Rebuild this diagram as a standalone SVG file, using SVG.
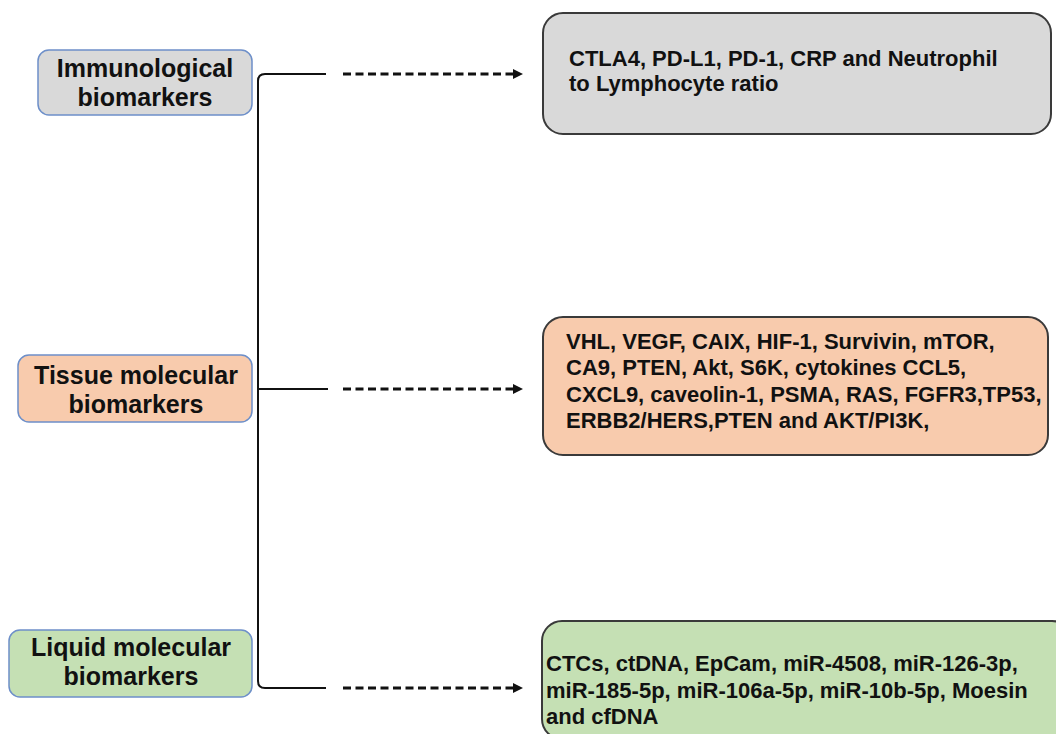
<svg xmlns="http://www.w3.org/2000/svg" width="1056" height="734" viewBox="0 0 1056 734">
<style>
.lbox{stroke:#6d8fc9;stroke-width:1.5}
.rbox{stroke:#3a3a3a;stroke-width:2}
.ltxt{font-family:"Liberation Sans",Arial,sans-serif;font-weight:bold;font-size:25px;fill:#111;text-anchor:middle}
.rtxt{font-family:"Liberation Sans",Arial,sans-serif;font-weight:bold;font-size:22px;fill:#111}
.solid{fill:none;stroke:#111;stroke-width:2}
.dash{fill:none;stroke:#111;stroke-width:3;stroke-dasharray:8 4.5}
.gray{fill:#d9d9d9}.peach{fill:#f8cbad}.green{fill:#c5e0b4}
</style>
<defs>
<marker id="arr" markerWidth="10" markerHeight="10" refX="0" refY="5" orient="auto" markerUnits="userSpaceOnUse">
<path d="M0,0 L10,5 L0,10 Z" fill="#111"/>
</marker>
</defs>
<rect width="1056" height="734" fill="#fff"/>
<g id="connectors">
<path class="solid" d="M326,74 L265,74 Q258,74 258,81 L258,681 Q258,688 265,688 L326,688"/>
<path class="solid" d="M258,389 L328,389"/>
<path class="dash" d="M343,74 L513,74" marker-end="url(#arr)"/>
<path class="dash" d="M343,389 L513,389" marker-end="url(#arr)"/>
<path class="dash" d="M343,688 L513,688" marker-end="url(#arr)"/>
</g>
<g id="immunological">
<rect class="lbox gray" x="38" y="50" width="214" height="65" rx="11"/>
<text class="ltxt" x="145" y="77">Immunological</text>
<text class="ltxt" x="145" y="106">biomarkers</text>
</g>
<g id="tissue">
<rect class="lbox peach" x="18" y="355" width="234" height="67" rx="11"/>
<text class="ltxt" x="136" y="384">Tissue molecular</text>
<text class="ltxt" x="136" y="413">biomarkers</text>
</g>
<g id="liquid">
<rect class="lbox green" x="9" y="630" width="243" height="67" rx="11"/>
<text class="ltxt" x="131" y="656">Liquid molecular</text>
<text class="ltxt" x="131" y="685">biomarkers</text>
</g>
<g id="immuno-list">
<rect class="rbox gray" x="543" y="13" width="508" height="121" rx="20"/>
<text class="rtxt" x="569" y="66">CTLA4, PD-L1, PD-1, CRP and Neutrophil</text>
<text class="rtxt" x="569" y="91">to Lymphocyte ratio</text>
</g>
<g id="tissue-list">
<rect class="rbox peach" x="543" y="317" width="505" height="138" rx="20"/>
<text class="rtxt" x="566" y="349">VHL, VEGF, CAIX, HIF-1, Survivin, mTOR,</text>
<text class="rtxt" x="566" y="375">CA9, PTEN, Akt, S6K, cytokines CCL5,</text>
<text class="rtxt" x="566" y="402">CXCL9, caveolin-1, PSMA, RAS, FGFR3,TP53,</text>
<text class="rtxt" x="566" y="428">ERBB2/HERS,PTEN and AKT/PI3K,</text>
</g>
<g id="liquid-list">
<rect class="rbox green" x="542" y="621" width="530" height="118" rx="20"/>
<text class="rtxt" x="546" y="671">CTCs, ctDNA, EpCam, miR-4508, miR-126-3p,</text>
<text class="rtxt" x="546" y="698">miR-185-5p, miR-106a-5p, miR-10b-5p, Moesin</text>
<text class="rtxt" x="546" y="724">and cfDNA</text>
</g>
</svg>
